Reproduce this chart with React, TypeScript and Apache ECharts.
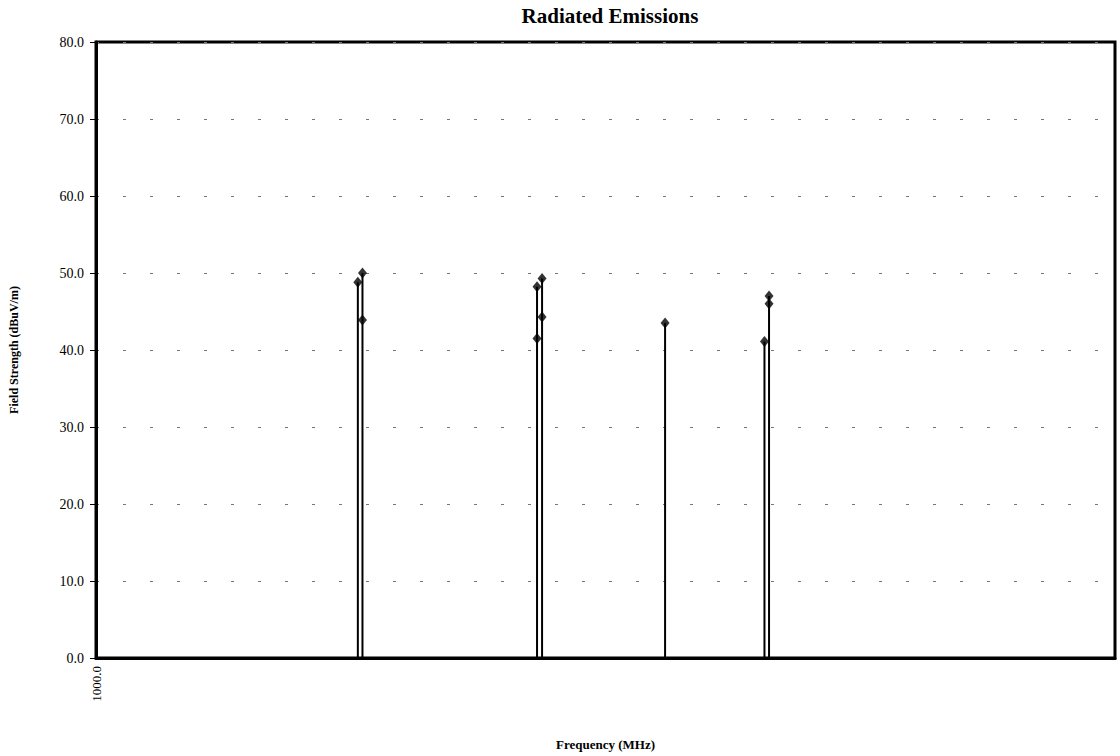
import React, { useEffect, useRef } from "react";
import * as echarts from "echarts";

const stemFreqs = [1807, 1826, 2709, 2740, 3618, 4529, 4576];
const pointFreqs = [1807, 1826, 1826, 2709, 2740, 2740, 2709, 3618, 4576, 4576, 4529];
const pointLevels = [48.8, 50.0, 43.9, 48.2, 49.3, 44.3, 41.5, 43.5, 47.0, 46.0, 41.1];
const yTicks = [0, 10, 20, 30, 40, 50, 60, 70, 80];
const xMinLabel = "1000.0";

const SERIF = "'Liberation Serif', 'DejaVu Serif', serif";

export default function App() {
  const ref = useRef<HTMLDivElement>(null);
  useEffect(() => {
    if (!ref.current) return;
    const chart = echarts.init(ref.current, undefined, { renderer: "svg" });
    const stemSeries = stemFreqs.map((f) => {
      const top = Math.max(...pointLevels.filter((_, i) => pointFreqs[i] === f));
      return {
        type: "line",
        data: [
          [f, 0],
          [f, top],
        ],
        symbol: "none",
        lineStyle: { color: "#000", width: 2 },
        silent: true,
        z: 3,
      };
    });
    chart.setOption({
      animation: false,
      backgroundColor: "#fff",
      title: {
        text: "Radiated Emissions",
        left: 605,
        top: 0,
        textAlign: "center",
        textStyle: { fontFamily: SERIF, fontWeight: "bold", fontSize: 21, color: "#000" },
      },
      grid: {
        left: 95,
        right: 5,
        top: 42,
        bottom: 98,
        show: true,
        borderColor: "#000",
        borderWidth: 3,
        backgroundColor: "transparent",
      },
      xAxis: {
        type: "log",
        logBase: 10,
        min: 1000,
        max: 10000,
        name: "Frequency (MHz)",
        nameLocation: "middle",
        nameGap: 80,
        nameTextStyle: { fontFamily: SERIF, fontWeight: "bold", fontSize: 13, color: "#000" },
        axisLine: { show: true, lineStyle: { color: "#000", width: 3 } },
        axisTick: { show: false },
        splitLine: { show: false },
        axisLabel: {
          rotate: 90,
          margin: 8,
          fontFamily: SERIF,
          fontSize: 13,
          color: "#000",
          formatter: (v: number) => (Math.abs(v - 1000) < 1 ? xMinLabel : ""),
        },
      },
      yAxis: {
        type: "value",
        min: yTicks[0],
        max: yTicks[yTicks.length - 1],
        interval: 10,
        name: "Field Strength (dBuV/m)",
        nameLocation: "middle",
        nameGap: 76,
        nameTextStyle: { fontFamily: SERIF, fontWeight: "bold", fontSize: 12, color: "#000" },
        axisLine: { show: true, lineStyle: { color: "#000", width: 3 } },
        axisTick: { show: true, length: 6, lineStyle: { color: "#000", width: 1 } },
        axisLabel: {
          margin: 12,
          fontFamily: SERIF,
          fontSize: 14,
          color: "#000",
          formatter: (v: number) => v.toFixed(1),
        },
        splitLine: {
          show: true,
          lineStyle: { color: "#777", width: 1, type: [3, 24] },
        },
      },
      series: [
        ...stemSeries,
        {
          type: "scatter",
          data: pointFreqs.map((f, i) => [f, pointLevels[i]]),
          symbol: "diamond",
          symbolSize: [9, 11],
          itemStyle: { color: "#000" },
          z: 5,
        },
      ],
    });
    return () => chart.dispose();
  }, []);
  return (
    <div
      ref={ref}
      style={{ position: "fixed", left: 0, top: 0, width: 1120, height: 756, background: "#fff" }}
    />
  );
}
